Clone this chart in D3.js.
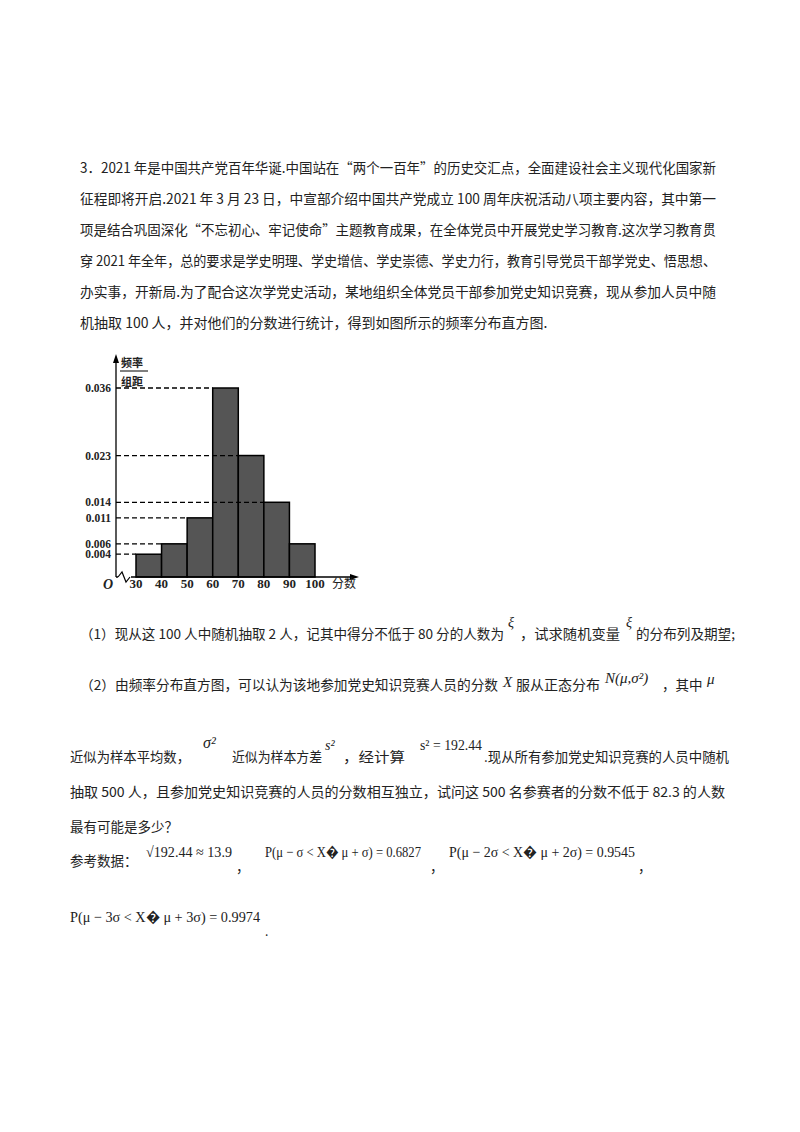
<!DOCTYPE html>
<html><head><meta charset="utf-8">
<script src="https://cdn.jsdelivr.net/npm/d3@7/dist/d3.min.js"></script>
<style>body{margin:0;background:#fff}</style></head>
<body><svg id="s" width="800" height="1132"></svg>
<script>
const binStarts=[30,40,50,60,70,80,90];
const densities=[0.004,0.006,0.011,0.036,0.023,0.014,0.006];
const yTicks=[0.004,0.006,0.011,0.014,0.023,0.036];
const xTicks=[30,40,50,60,70,80,90,100];
const svg=d3.select("#s");
const cjk="'Noto Sans CJK SC',sans-serif", ser="'Liberation Serif',serif";
function t(x,y,s,o={}){const e=svg.append("text").attr("x",x).attr("y",y).text(s)
 .style("font-family",o.f||cjk).style("font-size",(o.size||14)+"px").style("font-style",o.it?"italic":"normal")
 .style("font-weight",o.b?"bold":"normal").attr("text-anchor",o.a||"start").attr("fill","#222");
 if(o.w)e.attr("textLength",o.w).attr("lengthAdjust","spacingAndGlyphs");return e;}
const para=["3．2021 年是中国共产党百年华诞.中国站在“两个一百年”的历史交汇点，全面建设社会主义现代化国家新",
"征程即将开启.2021 年 3 月 23 日，中宣部介绍中国共产党成立 100 周年庆祝活动八项主要内容，其中第一",
"项是结合巩固深化“不忘初心、牢记使命”主题教育成果，在全体党员中开展党史学习教育.这次学习教育贯",
"穿 2021 年全年，总的要求是学史明理、学史增信、学史崇德、学史力行，教育引导党员干部学党史、悟思想、",
"办实事，开新局.为了配合这次学党史活动，某地组织全体党员干部参加党史知识竞赛，现从参加人员中随",
"机抽取 100 人，并对他们的分数进行统计，得到如图所示的频率分布直方图."];
para.forEach((s,i)=>t(80,173+i*31,s,{size:14,w:i==5?null:636}));

const x=d3.scaleLinear().domain([30,100]).range([136,315]);
const y=d3.scaleLinear().domain([0,0.036]).range([575,388]);
const axX=116, axY=577;
svg.selectAll("rect.b").data(binStarts).join("rect").attr("x",d=>x(d)).attr("width",d=>x(d+10)-x(d))
 .attr("y",(d,i)=>y(densities[i])).attr("height",(d,i)=>axY-y(densities[i]))
 .attr("fill","#555").attr("stroke","#000").attr("stroke-width",1.5);
yTicks.forEach(v=>{
 const bi=densities.indexOf(v);
 svg.append("line").attr("x1",axX).attr("x2",x(binStarts[bi])).attr("y1",y(v)).attr("y2",y(v)).attr("stroke","#000").attr("stroke-width",1.3).attr("stroke-dasharray","5,3");
 t(111,y(v)+4,v.toFixed(3),{f:ser,b:true,size:11.5,a:"end"});
});
svg.append("line").attr("x1",axX).attr("x2",axX).attr("y1",axY).attr("y2",360).attr("stroke","#000").attr("stroke-width",1.3);
svg.append("path").attr("d",`M${axX-3},363 L${axX},354 L${axX+3},363 Z`).attr("fill","#000");
svg.append("line").attr("x1",axX).attr("x2",354).attr("y1",axY).attr("y2",axY).attr("stroke","#000").attr("stroke-width",1.3);
svg.append("path").attr("d",`M350,${axY-3} L359,${axY} L350,${axY+3} Z`).attr("fill","#000");
svg.append("rect").attr("x",118).attr("y",axY-1).attr("width",13).attr("height",2).attr("fill","#fff");
svg.append("path").attr("d",`M118,${axY} L122,${axY-5} L126,${axY+5} L130,${axY}`).attr("fill","none").attr("stroke","#000").attr("stroke-width",1.2);
xTicks.forEach(v=>t(x(v),588,v,{f:ser,b:true,size:13,a:"middle"}));
t(113,589,"O",{f:ser,it:true,b:true,size:14,a:"end"});
t(332,588,"分数",{size:12});
t(121,367,"频率",{size:11,b:true});
svg.append("line").attr("x1",120).attr("x2",148).attr("y1",371).attr("y2",371).attr("stroke","#000");
t(121,386,"组距",{size:11,b:true});

t(80,639,"（1）现从这 100 人中随机抽取 2 人，记其中得分不低于 80 分的人数为",{size:13.5,w:424});
t(508,627,"ξ",{f:ser,it:true,size:14});
t(520,639,"，试求随机变量",{size:13.5,w:100});
t(626,627,"ξ",{f:ser,it:true,size:14});
t(636,639,"的分布列及期望;",{size:13.5,w:99});
t(80,690,"（2）由频率分布直方图，可以认为该地参加党史知识竞赛人员的分数",{size:13.5,w:418});
t(503,687,"X",{f:ser,it:true,size:15});
t(516,690,"服从正态分布",{size:13.5,w:84});
t(605,683,"N(μ,σ²)",{f:ser,it:true,size:15});
t(662,690,"，其中",{size:13.5});
t(707,684,"μ",{f:ser,it:true,size:15});
t(70,762,"近似为样本平均数，",{size:13.5,w:120});
t(203,748,"σ²",{f:ser,it:true,size:16});
t(232,762,"近似为样本方差",{size:13.5,w:90});
t(325,750,"s²",{f:ser,it:true,size:14});
t(343,762,"，经计算",{size:13.5,w:62});
t(420,750,"s² = 192.44",{f:ser,size:14,w:62});
t(484,762,".现从所有参加党史知识竞赛的人员中随机",{size:13.5,w:245});
t(70,797,"抽取 500 人，且参加党史知识竞赛的人员的分数相互独立，试问这 500 名参赛者的分数不低于 82.3 的人数",{size:13.5,w:655});
t(70,832,"最有可能是多少？",{size:13.5});
t(70,866,"参考数据：",{size:13.5});
t(146,857,"√192.44 ≈ 13.9",{f:ser,size:15,w:86});
t(236,872,"，",{size:13.5});
t(265,857,"P(μ − σ < X� μ + σ) = 0.6827",{f:ser,size:15,w:156});
t(430,872,"，",{size:13.5});
t(449,857,"P(μ − 2σ < X� μ + 2σ) = 0.9545",{f:ser,size:15,w:186});
t(638,872,"，",{size:13.5});
t(70,922,"P(μ − 3σ < X� μ + 3σ) = 0.9974",{f:ser,size:15,w:190});
t(265,936,".",{size:12});
</script></body></html>
